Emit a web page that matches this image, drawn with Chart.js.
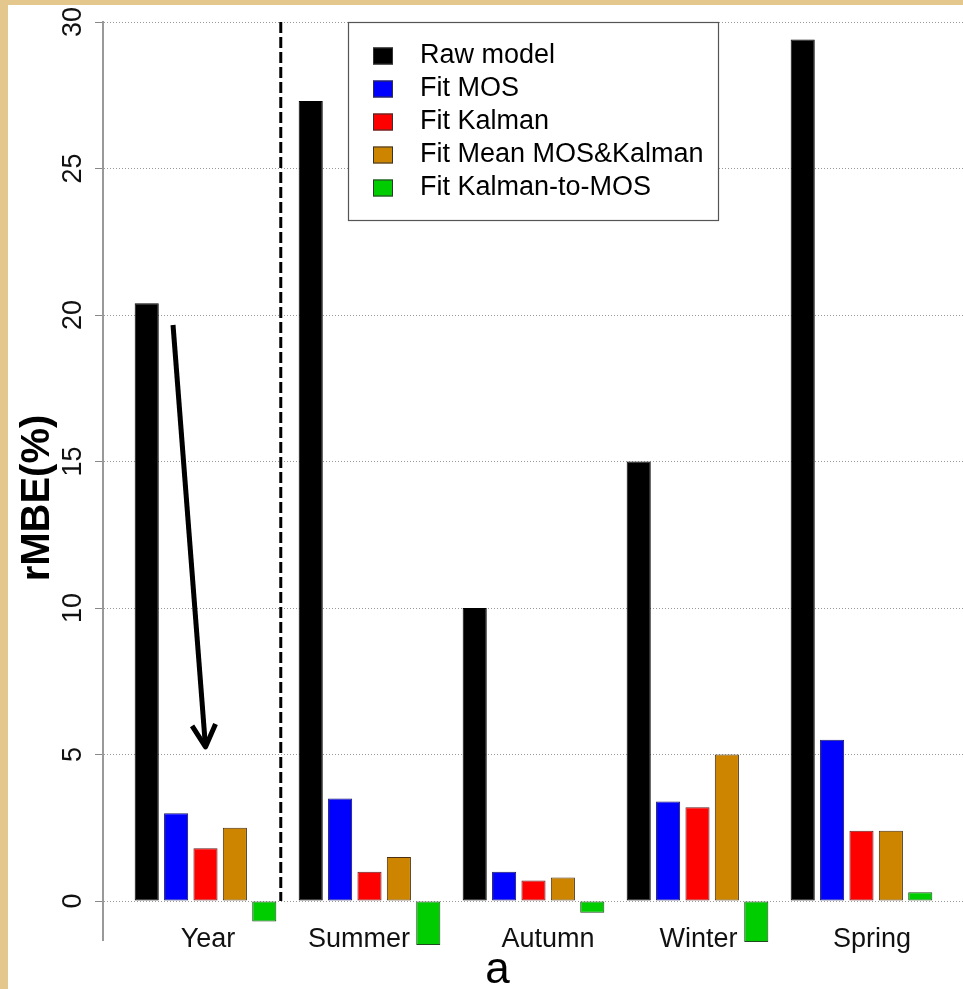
<!DOCTYPE html>
<html>
<head>
<meta charset="utf-8">
<script src="https://cdn.jsdelivr.net/npm/chart.js@4.4.1/dist/chart.umd.min.js"></script>
<style>
  body { margin: 0; background: #e4c78c; width: 963px; height: 989px; overflow: hidden; }
  #wrap { position: absolute; left: 8px; top: 5px; width: 955px; height: 984px; background: #fff; }
</style>
</head>
<body>
<div id="wrap"><canvas id="graph" width="955" height="984"></canvas></div>
<script>
const seasons = ['Year', 'Summer', 'Autumn', 'Winter', 'Spring'];
const rawModel = [20.4, 27.3, 10.0, 15.0, 29.4];
const fitMOS = [3.0, 3.5, 1.0, 3.4, 5.5];
const fitKalman = [1.8, 1.0, 0.7, 3.2, 2.4];
const fitMean = [2.5, 1.5, 0.8, 5.0, 2.4];
const fitK2MOS = [-0.7, -1.5, -0.4, -1.4, 0.3];
const yTicks = [0, 5, 10, 15, 20, 25, 30];

const FONT = '"Liberation Sans", Arial, sans-serif';
Chart.defaults.font.family = FONT;
Chart.defaults.color = '#111';

const xMin = -0.625, xMax = 4.619;

let toPoints = (vals) => vals.map((v, i) => ({ x: i, y: v }));

// separator, arrow, boxed legend and axis titles
const extras = {
    id: 'extras',
    afterDraw(chart) {
        const { ctx, scales: { x, y } } = chart;

        ctx.save();
        ctx.strokeStyle = '#000';
        ctx.lineWidth = 3;
        ctx.setLineDash([11, 4]);
        const sx = x.getPixelForValue(0.459);
        ctx.beginPath();
        ctx.moveTo(sx, y.getPixelForValue(30));
        ctx.lineTo(sx, y.getPixelForValue(0));
        ctx.stroke();
        ctx.restore();

        // arrow
        const x0 = x.getPixelForValue(-0.198), y0 = y.getPixelForValue(19.66);
        const x1 = x.getPixelForValue(0), y1 = y.getPixelForValue(5.26);
        const ang = Math.atan2(y1 - y0, x1 - x0) + Math.PI;
        ctx.save();
        ctx.strokeStyle = '#000';
        ctx.lineWidth = 5;
        ctx.beginPath();
        ctx.moveTo(x0, y0);
        ctx.lineTo(x1, y1);
        ctx.stroke();
        ctx.lineJoin = 'round';
        ctx.beginPath();
        ctx.moveTo(x1 + 25 * Math.cos(ang - 0.49), y1 + 25 * Math.sin(ang - 0.49));
        ctx.lineTo(x1, y1);
        ctx.lineTo(x1 + 25 * Math.cos(ang + 0.49), y1 + 25 * Math.sin(ang + 0.49));
        ctx.stroke();
        ctx.restore();

        // legend
        const bx = 340, by = 17, bw = 370, bh = 198;
        ctx.save();
        ctx.fillStyle = '#fff';
        ctx.fillRect(bx, by, bw, bh);
        ctx.strokeStyle = '#555';
        ctx.lineWidth = 1.2;
        ctx.strokeRect(bx + 0.5, by + 0.5, bw, bh);
        ctx.font = '27px ' + FONT;
        ctx.textBaseline = 'middle';
        chart.data.datasets.forEach((ds, i) => {
            const cy = by + 34 + i * 33;
            ctx.fillStyle = ds.backgroundColor;
            ctx.fillRect(365, cy - 8.5, 20, 17);
            ctx.strokeStyle = '#333';
            ctx.lineWidth = 1;
            ctx.strokeRect(365.5, cy - 8, 19, 16);
            ctx.fillStyle = '#000';
            ctx.fillText(ds.label, 412, cy);
        });
        ctx.restore();

        // axis titles
        ctx.save();
        ctx.fillStyle = '#000';
        ctx.textAlign = 'center';
        ctx.textBaseline = 'middle';
        ctx.font = 'bold 40px ' + FONT;
        ctx.translate(29.5, 493);
        ctx.rotate(-Math.PI / 2);
        ctx.fillText('rMBE(%)', 0, 0);
        ctx.restore();
        ctx.save();
        ctx.fillStyle = '#000';
        ctx.textAlign = 'center';
        ctx.font = '44px ' + FONT;
        ctx.fillText('a', 489.5, 978);
        ctx.restore();
    }
};

const data = {
    datasets: [
        { label: 'Raw model', data: toPoints(rawModel), backgroundColor: '#000000', borderColor: '#000' },
        { label: 'Fit MOS', data: toPoints(fitMOS), backgroundColor: '#0000ff', borderColor: '#1a1a60' },
        { label: 'Fit Kalman', data: toPoints(fitKalman), backgroundColor: '#ff0000', borderColor: '#602020' },
        { label: 'Fit Mean MOS&Kalman', data: toPoints(fitMean), backgroundColor: '#cd8500', borderColor: '#4a3010' },
        { label: 'Fit Kalman-to-MOS', data: toPoints(fitK2MOS), backgroundColor: '#00cd00', borderColor: '#1f4a1f' }
    ]
};

const config = {
    type: 'bar',
    data: data,
    options: {
        responsive: false,
        animation: false,
        layout: { padding: { top: 17, left: 0, right: 0, bottom: 49 } },
        plugins: { legend: { display: false }, tooltip: { enabled: false } },
        datasets: {
            bar: { categoryPercentage: 0.896, barPercentage: 0.82, borderWidth: 1, borderSkipped: false, clip: false }
        },
        scales: {
            x: {
                type: 'linear', min: xMin, max: xMax, display: false, offset: false,
                afterBuildTicks: axis => { axis.ticks = seasons.map((s, i) => ({ value: i })); }
            },
            xl: {
                type: 'linear', position: { y: 0 }, min: xMin, max: xMax, offset: false,
                afterBuildTicks: axis => {
                    const shift = [0.015, -0.064, 0.088, 0.006, 0.064];
                    axis.ticks = seasons.map((s, i) => ({ value: i + shift[i] }));
                },
                afterFit: axis => { axis.height = 0; axis.paddingLeft = 0; axis.paddingRight = 0; },
                grid: { display: false, drawTicks: false, offset: false },
                border: { display: false },
                ticks: { padding: 22, color: '#111', font: { size: 27 }, callback: (v, i) => seasons[i] }
            },
            y: {
                min: -1.33, max: 30,
                afterBuildTicks: axis => { axis.ticks = yTicks.map(v => ({ value: v })); },
                afterFit: axis => { axis.width = 95; axis.paddingTop = 0; axis.paddingBottom = 0; },
                grid: { color: '#999', lineWidth: 1, tickLength: 8, tickColor: '#888', tickWidth: 1 },
                border: { color: '#999', width: 2, dash: [1, 2] },
                ticks: { minRotation: 90, maxRotation: 90, crossAlign: 'center', padding: 6, color: '#111', font: { size: 27 } }
            }
        }
    },
    plugins: [extras]
};

const graph = new Chart(document.getElementById('graph'), config);
</script>
</body>
</html>
